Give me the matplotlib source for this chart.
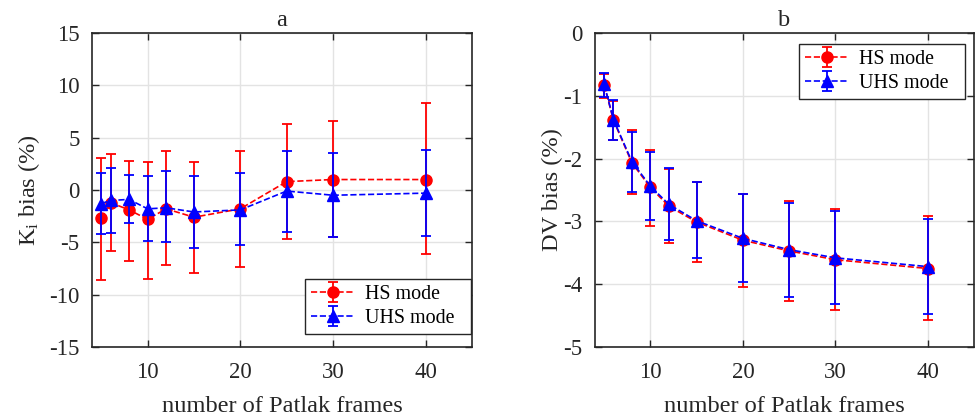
import matplotlib
matplotlib.use("Agg")
import matplotlib.pyplot as plt
import numpy as np

plt.rcParams['font.family'] = ['Liberation Serif', 'DejaVu Serif']
plt.rcParams['mathtext.fontset'] = 'custom'
plt.rcParams['mathtext.rm'] = 'Liberation Serif'
plt.rcParams['mathtext.it'] = 'Liberation Serif:italic'
plt.rcParams['axes.unicode_minus'] = False

frames = [5, 6, 8, 10, 12, 15, 20, 25, 30, 40]

# Panel a: Ki bias (%)
ki_hs = [-2.7, -1.2, -1.9, -2.8, -1.8, -2.6, -1.8, 0.8, 1.0, 1.0]
ki_hs_up = [3.1, 3.4, 2.8, 2.7, 3.7, 2.7, 3.7, 6.3, 6.6, 8.3]
ki_hs_lo = [-8.6, -5.8, -6.8, -8.5, -7.2, -7.9, -7.4, -4.7, -4.5, -6.1]
ki_uhs = [-1.3, -1.0, -0.9, -1.8, -1.7, -2.1, -1.9, -0.1, -0.5, -0.3]
ki_uhs_up = [1.6, 2.1, 1.4, 1.3, 1.8, 1.3, 1.6, 3.7, 3.5, 3.8]
ki_uhs_lo = [-4.2, -4.1, -3.2, -4.9, -5.0, -5.5, -5.3, -4.0, -4.5, -4.4]

# Panel b: DV bias (%)
dv_hs = [-0.83, -1.39, -2.07, -2.46, -2.76, -3.01, -3.30, -3.47, -3.61, -3.75]
dv_hs_up = [-0.65, -1.08, -1.55, -1.86, -2.17, -2.38, -2.56, -2.67, -2.81, -2.92]
dv_hs_lo = [-1.03, -1.71, -2.57, -3.08, -3.35, -3.64, -4.04, -4.27, -4.41, -4.57]
dv_uhs = [-0.82, -1.38, -2.05, -2.44, -2.73, -2.99, -3.27, -3.45, -3.58, -3.72]
dv_uhs_up = [-0.63, -1.06, -1.58, -1.89, -2.15, -2.38, -2.57, -2.71, -2.84, -2.96]
dv_uhs_lo = [-1.02, -1.70, -2.53, -2.98, -3.29, -3.59, -3.97, -4.21, -4.31, -4.48]

series_labels = ['HS mode', 'UHS mode']

FS = 16.5
LFS = 17.6
GFS = 14.4
TXT = '#262626'

fig = plt.figure(figsize=(9.78, 4.18), dpi=100)
axa = fig.add_axes([92/978, 71/418, 380/978, 314/418])
axb = fig.add_axes([595/978, 71/418, 379/978, 314/418])

def draw(ax, y1, u1, l1, y2, u2, l2):
    y1 = np.array(y1); y2 = np.array(y2)
    e1 = [y1 - np.array(l1), np.array(u1) - y1]
    e2 = [y2 - np.array(l2), np.array(u2) - y2]
    ax.errorbar(frames, y1, yerr=e1, color='#ff0000', ls='--', lw=1.2,
                marker='o', ms=8, capsize=3.5, capthick=1.3, elinewidth=1.3,
                label=series_labels[0] + '  ', zorder=3)
    ax.errorbar(frames, y2, yerr=e2, color='#0000ff', ls='--', lw=1.2,
                marker='^', ms=8.5, capsize=3.5, capthick=1.3, elinewidth=1.3,
                label=series_labels[1] + '  ', zorder=4)

def style(ax):
    ax.set_xlim(4, 45)
    ax.set_xticks([10, 20, 30, 40])
    ax.grid(True, color='#e3e3e3', lw=1.0, zorder=0)
    ax.set_axisbelow(True)
    for s in ax.spines.values():
        s.set_color(TXT)
        s.set_linewidth(1.2)
    ax.tick_params(direction='in', top=True, right=True, length=5, width=1.0,
                   color=TXT, labelsize=FS, labelcolor=TXT)
    ax.tick_params(axis='x', pad=11)
    ax.tick_params(axis='y', pad=9)
    ax.set_xlabel('number of Patlak frames', fontsize=LFS, color=TXT, labelpad=9)

def legend(ax, loc, anchor):
    leg = ax.legend(loc=loc, bbox_to_anchor=anchor, borderaxespad=0,
                    fontsize=GFS, fancybox=False, framealpha=1, edgecolor=TXT,
                    handlelength=2.2, labelspacing=0.25, borderpad=0.3,
                    handletextpad=0.5)
    leg.get_frame().set_linewidth(1.0)

draw(axa, ki_hs, ki_hs_up, ki_hs_lo, ki_uhs, ki_uhs_up, ki_uhs_lo)
style(axa)
axa.set_ylim(-15, 15)
axa.set_yticks(np.arange(-15, 16, 5))
axa.set_ylabel(r'K$_\mathrm{i}$ bias (%)', fontsize=LFS, color=TXT)
axa.yaxis.set_label_coords(-0.131, 0.5)
axa.set_title('a', fontsize=LFS, color=TXT, pad=5)
legend(axa, 'lower right', (0.997, 0.041))

draw(axb, dv_hs, dv_hs_up, dv_hs_lo, dv_uhs, dv_uhs_up, dv_uhs_lo)
style(axb)
axb.set_ylim(-5, 0)
axb.set_yticks(np.arange(-5, 0.1, 1))
axb.set_ylabel('DV bias (%)', fontsize=LFS, color=TXT)
axb.yaxis.set_label_coords(-0.085, 0.5)
axb.set_title('b', fontsize=LFS, color=TXT, pad=5)
legend(axb, 'upper right', (0.976, 0.965))

fig.savefig('out.png', dpi=100)
